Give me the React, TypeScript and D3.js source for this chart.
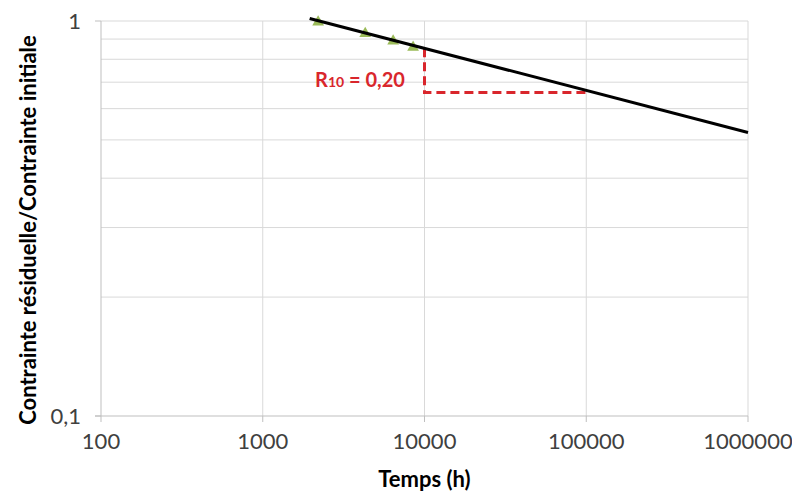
import React from "react";
import * as d3 from "d3";

const xTicks = [100, 1000, 10000, 100000, 1000000];
const xTickLabels = ["100", "1000", "10000", "100000", "1000000"];
const yTicks = [0.1, 1];
const yTickLabels = ["0,1", "1"];
const yMinorGrid = [0.2, 0.3, 0.4, 0.5, 0.6, 0.7, 0.8, 0.9];

// measured points (triangles)
const pointTimes = [2200, 4300, 6400, 8500];
const pointValues = [1.0, 0.935, 0.895, 0.863];

// fitted power-law line (endpoints)
const fitTimes = [1950, 1000000];
const fitValues = [1.015, 0.522];

// R10 construction: decade from 10 000 h to 100 000 h
const decadeTimes = [10000, 100000];

const W = 792;
const H = 494;
const margin = { left: 101, right: 44, top: 21, bottom: 78 };

export default function App() {
  const x = d3
    .scaleLog()
    .domain([100, 1000000])
    .range([margin.left, W - margin.right]);
  const y = d3
    .scaleLog()
    .domain([0.1, 1])
    .range([H - margin.bottom, margin.top]);

  // power-law fit through endpoints
  const b =
    (Math.log10(fitValues[1]) - Math.log10(fitValues[0])) /
    (Math.log10(fitTimes[1]) - Math.log10(fitTimes[0]));
  const fit = (t: number) =>
    Math.pow(10, Math.log10(fitValues[0]) + b * (Math.log10(t) - Math.log10(fitTimes[0])));

  const fitLine = d3
    .line<number>()
    .x((t) => x(t))
    .y((t) => y(fit(t)));

  const v1 = fit(decadeTimes[0]);
  const v2 = fit(decadeTimes[1]);
  const dashPath = d3.path();
  dashPath.moveTo(x(decadeTimes[0]), y(v1));
  dashPath.lineTo(x(decadeTimes[0]), y(v2) + 2);
  dashPath.lineTo(x(decadeTimes[1]), y(v2) + 2);

  const tri = d3.symbol().type(d3.symbolTriangle).size(60)();

  const font = "Lato, 'Open Sans', sans-serif";
  const x0 = margin.left;
  const x1 = W - margin.right;
  const y0 = H - margin.bottom;
  const y1 = margin.top;

  return (
    <svg
      width={W}
      height={H}
      style={{ position: "absolute", left: 0, top: 0, background: "#fff" }}
      fontFamily={font}
    >
      {/* horizontal grid */}
      {yMinorGrid.concat([1]).map((v) => (
        <line key={"hg" + v} x1={x0} x2={x1} y1={y(v)} y2={y(v)} stroke="#d9d9d9" strokeWidth={1} />
      ))}
      {/* vertical grid */}
      {xTicks.slice(1).map((t) => (
        <line key={"vg" + t} x1={x(t)} x2={x(t)} y1={y1} y2={y0} stroke="#d9d9d9" strokeWidth={1} />
      ))}
      {/* axes */}
      <line x1={x0} x2={x0} y1={y1} y2={y0} stroke="#bfbfbf" strokeWidth={1} />
      <line x1={x0 - 6} x2={x1} y1={y0} y2={y0} stroke="#bfbfbf" strokeWidth={1} />
      {yTicks.map((v) => (
        <line key={"yt" + v} x1={x0 - 6} x2={x0} y1={y(v)} y2={y(v)} stroke="#bfbfbf" />
      ))}
      {xTicks.map((t) => (
        <line key={"xt" + t} x1={x(t)} x2={x(t)} y1={y0} y2={y0 + 6} stroke="#bfbfbf" />
      ))}
      {/* tick labels */}
      {xTicks.map((t, i) => (
        <text
          key={"xl" + t}
          x={x(t)}
          y={y0 + 33}
          textAnchor="middle"
          fontSize={22}
          fill="#404040"
        >
          {xTickLabels[i]}
        </text>
      ))}
      {yTicks.map((v, i) => (
        <text
          key={"yl" + v}
          x={x0 - 20}
          y={y(v)}
          dy="0.35em"
          textAnchor="end"
          fontSize={22}
          fill="#404040"
        >
          {yTickLabels[i]}
        </text>
      ))}
      {/* axis titles */}
      <text
        x={(x0 + x1) / 2}
        y={H - 7}
        textAnchor="middle"
        fontSize={22}
        fontWeight="bold"
        fill="#000"
      >
        Temps (h)
      </text>
      <text
        transform={`translate(36,230) rotate(-90)`}
        textAnchor="middle"
        fontSize={22}
        fontWeight="bold"
        fill="#000"
      >
        Contrainte résiduelle/Contrainte initiale
      </text>
      {/* dashed R10 construction */}
      <path
        d={dashPath.toString()}
        fill="none"
        stroke="#d9262c"
        strokeWidth={3}
        strokeDasharray="9,5"
      />
      {/* points */}
      {pointTimes.map((t, i) => (
        <path
          key={"p" + t}
          d={tri}
          transform={`translate(${x(t)},${y(pointValues[i]) + 1})`}
          fill="#9bbb59"
        />
      ))}
      {/* fitted line */}
      <path
        d={fitLine(fitTimes) || ""}
        fill="none"
        stroke="#000"
        strokeWidth={3}
      />
      {/* R10 label */}
      <text
        x={315}
        y={87}
        fontSize={20}
        fontWeight="bold"
        fill="#d9262c"
      >
        R
        <tspan fontSize={14}>10</tspan>
        <tspan> = 0,20</tspan>
      </text>
    </svg>
  );
}
